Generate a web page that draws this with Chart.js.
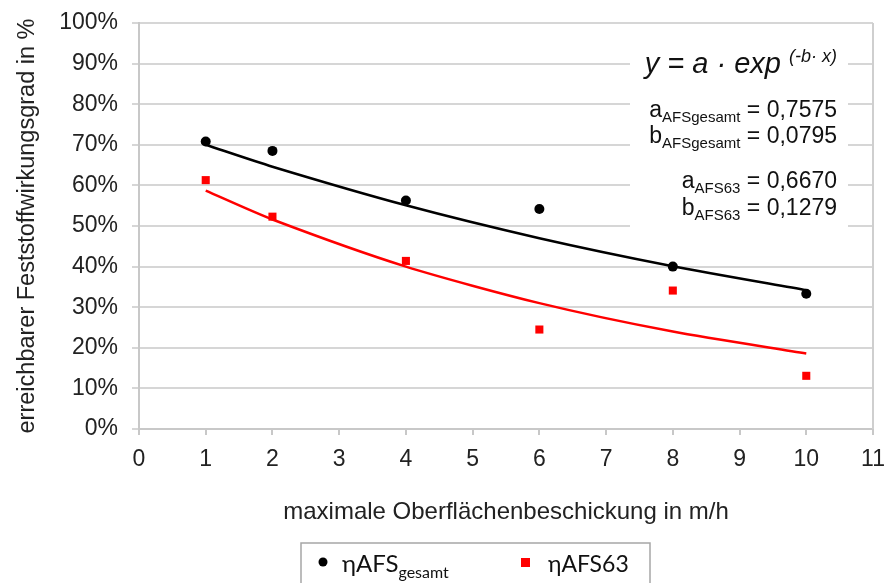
<!DOCTYPE html>
<html>
<head>
<meta charset="utf-8">
<script src="https://cdn.jsdelivr.net/npm/chart.js@4.4.1/dist/chart.umd.min.js"></script>
<style>
  html, body { margin: 0; padding: 0; background: #fff; }
  #wrap { width: 885px; height: 583px; position: relative; }
</style>
</head>
<body>
<div id="wrap"><canvas id="chart"></canvas></div>
<script>
// maximale Oberflächenbeschickung (m/h)
var loads = [1, 2, 4, 6, 8, 10];
// gemessene Wirkungsgrade in %
var etaGesamt = [70.8, 68.5, 56.3, 54.2, 40.0, 33.3];
var eta63 = [61.3, 52.3, 41.4, 24.5, 34.1, 13.1];
// Trendlinien
var fitGesamt = [70.0, 64.6, 55.1, 47.0, 40.1, 34.2];
var fit63 = [58.7, 51.6, 40.0, 31.0, 24.0, 18.6];

var xTicks = [0, 1, 2, 3, 4, 5, 6, 7, 8, 9, 10, 11];
var yTicks = [0, 10, 20, 30, 40, 50, 60, 70, 80, 90, 100];

var fitParams = [
    ["a", "AFSgesamt", "0,7575"],
    ["b", "AFSgesamt", "0,0795"],
    ["a", "AFS63", "0,6670"],
    ["b", "AFS63", "0,1279"]
];
var legendNames = [["ηAFS", "gesamt"], ["ηAFS63", ""]];

function toPoints(xs, ys) {
    var pts = [];
    for (var i = 0; i < xs.length; i++) {
        pts.push({ x: xs[i], y: ys[i] });
    }
    return pts;
}

var FONT = "'Liberation Sans', Arial, sans-serif";
var TEXT = "#222";

// Text aus Teilen (mit Tiefstellung) zeichnen
function drawParts(ctx, parts, x, y, align) {
    var total = 0, i;
    for (i = 0; i < parts.length; i++) {
        ctx.font = parts[i].font;
        total += ctx.measureText(parts[i].t).width;
    }
    var cx = align === "right" ? x - total : x;
    ctx.textAlign = "left";
    ctx.textBaseline = "alphabetic";
    for (i = 0; i < parts.length; i++) {
        ctx.font = parts[i].font;
        ctx.fillText(parts[i].t, cx, y + (parts[i].dy || 0));
        cx += ctx.measureText(parts[i].t).width;
    }
}

var extras = {
    id: "extras",
    beforeDatasetsDraw: function (chart) {
        var ctx = chart.ctx, a = chart.chartArea;
        ctx.save();
        // rechter Rand der Zeichenfläche
        ctx.strokeStyle = "#cfcfcf";
        ctx.lineWidth = 2;
        ctx.beginPath();
        ctx.moveTo(a.right, a.top);
        ctx.lineTo(a.right, a.bottom);
        ctx.stroke();
        // weißer Hintergrund für die Formel
        ctx.fillStyle = "#fff";
        ctx.fillRect(a.right - 243, a.top + 17, 218, 196);
        ctx.restore();
    },
    afterDraw: function (chart) {
        var ctx = chart.ctx, a = chart.chartArea;
        ctx.save();
        ctx.fillStyle = "#111";
        // Formel
        drawParts(ctx, [
            { t: "y = a · exp ", font: "italic 29px " + FONT },
            { t: "(-b· x)", font: "italic 18px " + FONT, dy: -11 }
        ], a.right - 36, a.top + 50, "right");
        // Parameter
        var rows = [a.top + 94, a.top + 120, a.top + 165, a.top + 192];
        for (var i = 0; i < fitParams.length; i++) {
            drawParts(ctx, [
                { t: fitParams[i][0], font: "23px " + FONT },
                { t: fitParams[i][1], font: "15px " + FONT, dy: 5 },
                { t: " = " + fitParams[i][2], font: "23px " + FONT }
            ], a.right - 36, rows[i], "right");
        }
        // Legende
        var lx = 301, ly = 543;
        ctx.strokeStyle = "#a6a6a6";
        ctx.lineWidth = 1.5;
        ctx.strokeRect(lx, ly, 349, 60);
        var ds = chart.data.datasets;
        ctx.fillStyle = ds[0].pointBackgroundColor;
        ctx.beginPath();
        ctx.arc(lx + 22, ly + 19, 4.5, 0, Math.PI * 2);
        ctx.fill();
        ctx.fillStyle = ds[1].pointBackgroundColor;
        ctx.fillRect(lx + 220, ly + 15, 9, 9);
        ctx.fillStyle = "#111";
        var LF = "Lato, 'Open Sans', sans-serif";
        drawParts(ctx, [
            { t: legendNames[0][0], font: "24px " + LF },
            { t: legendNames[0][1], font: "16px " + LF, dy: 6 }
        ], lx + 41, ly + 29, "left");
        drawParts(ctx, [
            { t: legendNames[1][0], font: "23px " + LF }
        ], lx + 247, ly + 29, "left");
        ctx.restore();
    }
};

var ctx = document.getElementById("chart");
var chart = new Chart(ctx, {
    type: "scatter",
    data: {
        datasets: [{
            label: "ηAFSgesamt",
            data: toPoints(loads, etaGesamt),
            pointStyle: "circle",
            pointRadius: 5,
            pointBackgroundColor: "#000",
            pointBorderWidth: 0,
            order: 0
        }, {
            label: "ηAFS63",
            data: toPoints(loads, eta63),
            pointStyle: "rect",
            pointRadius: 5.7,
            pointBackgroundColor: "#ff0000",
            pointBorderWidth: 0,
            order: 0
        }, {
            label: "Trend gesamt",
            data: toPoints(loads, fitGesamt),
            showLine: true,
            borderColor: "#000",
            borderWidth: 2.5,
            pointRadius: 0,
            tension: 0.25,
            order: 1
        }, {
            label: "Trend 63",
            data: toPoints(loads, fit63),
            showLine: true,
            borderColor: "#ff0000",
            borderWidth: 2.5,
            pointRadius: 0,
            tension: 0.25,
            order: 1
        }]
    },
    options: {
        responsive: true,
        maintainAspectRatio: false,
        animation: false,
        layout: { padding: { top: 23, right: 12, left: 0, bottom: 0 } },
        plugins: {
            legend: { display: false },
            tooltip: { enabled: false }
        },
        scales: {
            x: {
                type: "linear",
                min: 0,
                max: 11,
                afterBuildTicks: function (scale) {
                    scale.ticks = xTicks.map(function (v) { return { value: v }; });
                },
                afterFit: function (scale) {
                    scale.height = 154;
                    scale.paddingLeft = 0;
                    scale.paddingRight = 0;
                },
                ticks: {
                    font: { family: FONT, size: 23 },
                    color: TEXT,
                    padding: 11,
                    maxRotation: 0,
                    autoSkip: false
                },
                grid: {
                    drawOnChartArea: false,
                    drawTicks: true,
                    tickLength: 6,
                    color: "#c8c8c8",
                    lineWidth: 2
                },
                border: { color: "#c8c8c8", width: 2 },
                title: {
                    display: true,
                    text: "maximale Oberflächenbeschickung in m/h",
                    font: { family: FONT, size: 24 },
                    color: TEXT,
                    padding: { top: 0, bottom: 56 }
                }
            },
            y: {
                min: 0,
                max: 100,
                afterBuildTicks: function (scale) {
                    scale.ticks = yTicks.map(function (v) { return { value: v }; });
                },
                afterFit: function (scale) {
                    scale.width = 139;
                    scale.paddingTop = 0;
                    scale.paddingBottom = 0;
                },
                ticks: {
                    font: { family: FONT, size: 23 },
                    color: TEXT,
                    padding: 14,
                    callback: function (v) { return v + "%"; }
                },
                grid: {
                    color: "#d6d6d6",
                    lineWidth: 2,
                    tickLength: 7
                },
                border: { color: "#c8c8c8", width: 2 },
                title: {
                    display: true,
                    text: "erreichbarer Feststoffwirkungsgrad in %",
                    font: { family: FONT, size: 23.5 },
                    color: TEXT,
                    padding: { top: 13, bottom: 0 }
                }
            }
        }
    },
    plugins: [extras]
});
</script>
</body>
</html>
